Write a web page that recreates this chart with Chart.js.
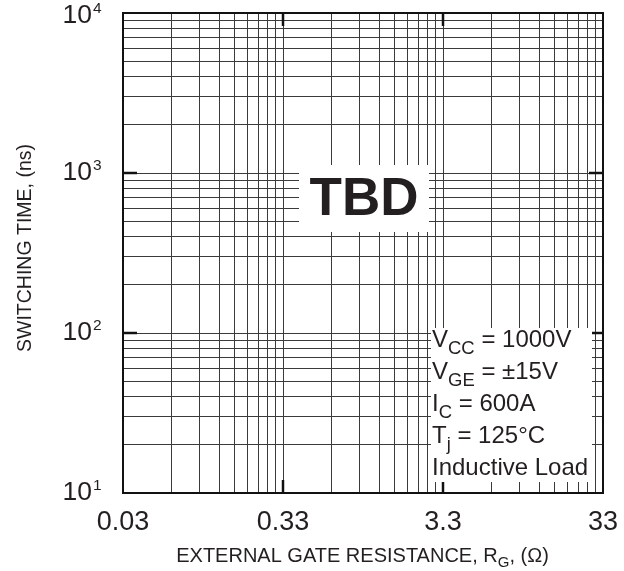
<!DOCTYPE html>
<html>
<head>
<meta charset="utf-8">
<script src="https://cdn.jsdelivr.net/npm/chart.js@4.4.1/dist/chart.umd.min.js"></script>
<style>
html,body{margin:0;padding:0;background:#fff;}
#wrap{width:624px;height:571px;position:relative;}
canvas{display:block;}
</style>
</head>
<body>
<div id="wrap"><canvas id="c" width="624" height="571"></canvas></div>
<script>
// ---- chart content ----
const xTickValues = [0.033, 0.33, 3.3, 33];
const xTickLabels = ["0.03", "0.33", "3.3", "33"];
const yTickValues = [10, 100, 1000, 10000];
const yTickBase = ["10", "10", "10", "10"];
const yTickExp = ["1", "2", "3", "4"];
const condMain = ["V", "V", "I", "T", "Inductive Load"];
const condSub = ["CC", "GE", "C", "j", ""];
const condRest = [" = 1000V", " = \u00b115V", " = 600A", " = 125\u00b0C", ""];
const placeholderText = "TBD";
const xTitleParts = ["EXTERNAL GATE RESISTANCE, R", "G", ", (\u03a9)"];
const yTitle = "SWITCHING TIME, (ns)";

// minor grid positions (1..9 within each decade of the axis)
function decadeGrid(majors) {
  const out = [];
  for (let i = 0; i < majors.length - 1; i++) {
    for (let k = 1; k <= 9; k++) out.push(majors[i] * k);
  }
  out.push(majors[majors.length - 1]);
  return out;
}
const xGrid = decadeGrid(xTickValues);
const yGrid = decadeGrid(yTickValues);

const FONT = '"Liberation Sans", Arial, Helvetica, sans-serif';
const INK = '#231f20';

function line(ctx, x1, y1, x2, y2) {
  ctx.beginPath(); ctx.moveTo(x1, y1); ctx.lineTo(x2, y2); ctx.stroke();
}
function partsWidth(ctx, parts) {
  let w = 0;
  parts.forEach(p => { ctx.font = (p.bold ? 'bold ' : '') + p.size + 'px ' + FONT; w += ctx.measureText(p.t).width; });
  return w;
}
function drawParts(ctx, x, y, parts) {
  ctx.textAlign = 'left';
  ctx.textBaseline = 'alphabetic';
  parts.forEach(p => {
    ctx.font = (p.bold ? 'bold ' : '') + p.size + 'px ' + FONT;
    ctx.fillText(p.t, x, y + (p.dy || 0));
    x += ctx.measureText(p.t).width;
  });
  return x;
}

const decor = {
  id: 'decor',
  afterDraw(chart) {
    const ctx = chart.ctx, ca = chart.chartArea;
    const xs = chart.scales.x, ys = chart.scales.y;
    ctx.save();
    // frame
    ctx.strokeStyle = '#111';
    ctx.lineWidth = 2;
    ctx.strokeRect(ca.left, ca.top, ca.right - ca.left, ca.bottom - ca.top);
    // inward major ticks
    ctx.lineWidth = 2.5;
    xTickValues.slice(1, -1).forEach(v => {
      const px = xs.getPixelForValue(v);
      line(ctx, px, ca.top, px, ca.top + 13);
      line(ctx, px, ca.bottom, px, ca.bottom - 13);
    });
    yTickValues.slice(1, -1).forEach(v => {
      const py = ys.getPixelForValue(v);
      line(ctx, ca.left, py, ca.left + 14, py);
      line(ctx, ca.right, py, ca.right - 14, py);
    });

    // TBD box
    ctx.fillStyle = '#fff';
    ctx.fillRect(ca.left + 176, ca.top + 152, 130, 67);
    ctx.fillStyle = INK;
    ctx.font = 'bold 53px ' + FONT;
    ctx.textAlign = 'center';
    ctx.textBaseline = 'alphabetic';
    ctx.fillText(placeholderText, ca.left + 241, ca.top + 202);

    // conditions box
    ctx.fillStyle = '#fff';
    ctx.fillRect(ca.left + 308, ca.top + 315, 161, 154);
    ctx.fillStyle = INK;
    for (let i = 0; i < condMain.length; i++) {
      const parts = [{ t: condMain[i], size: 24 }];
      if (condSub[i]) parts.push({ t: condSub[i], size: 18.5, dy: 7 });
      if (condRest[i]) parts.push({ t: condRest[i], size: 24 });
      drawParts(ctx, ca.left + 309, ca.top + 334 + 32 * i, parts);
    }

    // x tick labels
    ctx.fillStyle = INK;
    ctx.font = '27px ' + FONT;
    ctx.textAlign = 'center';
    xTickValues.forEach((v, i) => {
      ctx.fillText(xTickLabels[i], xs.getPixelForValue(v), ca.bottom + 37);
    });

    // y tick labels with exponents
    yTickValues.forEach((v, i) => {
      const py = ys.getPixelForValue(v);
      const base = Math.max(py + 7, 23);
      ctx.font = '26.5px ' + FONT;
      ctx.textAlign = 'right';
      ctx.fillText(yTickBase[i], ca.left - 31, base);
      ctx.font = '15.5px ' + FONT;
      ctx.textAlign = 'left';
      ctx.fillText(yTickExp[i], ca.left - 30, base - 10);
    });

    // x title
    const xt = [
      { t: xTitleParts[0], size: 20 },
      { t: xTitleParts[1], size: 15, dy: 5 },
      { t: xTitleParts[2], size: 20 }
    ];
    const w = partsWidth(ctx, xt);
    drawParts(ctx, 362.5 - w / 2, ca.bottom + 69, xt);

    // y title
    ctx.save();
    ctx.translate(31, 248);
    ctx.rotate(-Math.PI / 2);
    ctx.font = '19.5px ' + FONT;
    ctx.textAlign = 'center';
    ctx.fillText(yTitle, 0, 0);
    ctx.restore();

    ctx.restore();
  }
};

new Chart(document.getElementById('c'), {
  type: 'scatter',
  data: { datasets: [{ data: [], showLine: false }] },
  options: {
    responsive: false,
    animation: false,
    devicePixelRatio: 1,
    layout: { padding: { top: 13, right: 21, left: 0, bottom: 0 } },
    plugins: { legend: { display: false }, tooltip: { enabled: false } },
    scales: {
      x: {
        type: 'logarithmic', position: 'bottom', min: xTickValues[0], max: xTickValues[xTickValues.length - 1],
        afterBuildTicks: s => { s.ticks = xGrid.map(v => ({ value: v })); },
        afterFit: s => { s.height = 78; },
        ticks: { display: false },
        grid: { color: '#3a3a3a', lineWidth: 1, drawTicks: false },
        border: { display: false }
      },
      y: {
        type: 'logarithmic', position: 'left', min: yTickValues[0], max: yTickValues[yTickValues.length - 1],
        afterBuildTicks: s => { s.ticks = yGrid.map(v => ({ value: v })); },
        afterFit: s => { s.width = 123; },
        ticks: { display: false },
        grid: { color: '#3a3a3a', lineWidth: 1, drawTicks: false },
        border: { display: false }
      }
    }
  },
  plugins: [decor]
});
</script>
</body>
</html>
